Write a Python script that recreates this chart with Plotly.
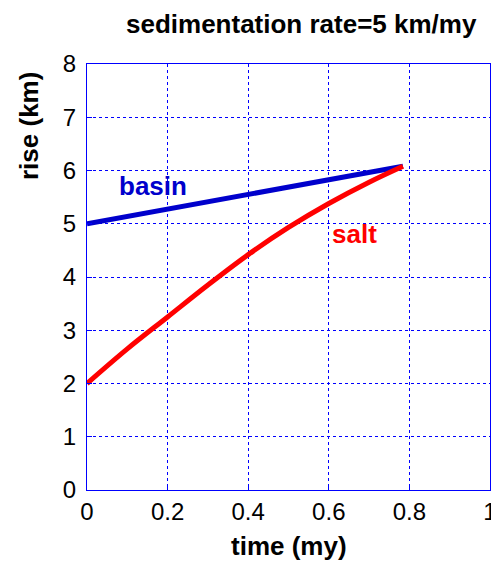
import plotly.graph_objects as go

time_basin = [0.0, 0.784]
rise_basin = [5.0, 6.08]

time_salt = [0.0, 0.1, 0.2, 0.3, 0.4, 0.5, 0.6, 0.7, 0.784]
rise_salt = [2.0, 2.65, 3.25, 3.85, 4.42, 4.93, 5.38, 5.78, 6.08]

x_ticks = [0, 0.2, 0.4, 0.6, 0.8, 1]
x_tick_text = ["0", "0.2", "0.4", "0.6", "0.8", "1"]
y_ticks = [0, 1, 2, 3, 4, 5, 6, 7, 8]

FONT = "Liberation Sans, Arial, Helvetica"

fig = go.Figure()
fig.add_trace(go.Scatter(x=time_basin, y=rise_basin, mode="lines",
                         line=dict(color="#0000cc", width=5), showlegend=False))
fig.add_trace(go.Scatter(x=time_salt, y=rise_salt, mode="lines", line_shape="spline",
                         line=dict(color="#ff0000", width=5), showlegend=False))

fig.add_annotation(x=0.164, y=5.71, text="<b>basin</b>", showarrow=False,
                   font=dict(family=FONT, size=26, color="#0000cc"))
fig.add_annotation(x=0.663, y=4.81, text="<b>salt</b>", showarrow=False,
                   font=dict(family=FONT, size=26, color="#ff0000"))

# title and axis titles
fig.add_annotation(xref="paper", yref="paper", x=0.532, y=1.0 + (64 - 24) / 426,
                   text="<b>sedimentation rate=5 km/my</b>", showarrow=False,
                   xanchor="center", yanchor="middle",
                   font=dict(family=FONT, size=26, color="black"))
fig.add_annotation(xref="paper", yref="paper", x=0.5, y=-(546 - 490) / 426,
                   text="<b>time (my)</b>", showarrow=False,
                   xanchor="center", yanchor="middle",
                   font=dict(family=FONT, size=26, color="black"))
fig.add_annotation(xref="paper", yref="paper", x=-(87 - 29) / 403, y=(490 - 126) / 426,
                   text="<b>rise (km)</b>", showarrow=False, textangle=-90,
                   xanchor="center", yanchor="middle",
                   font=dict(family=FONT, size=26, color="black"))

axis_common = dict(showline=True, linecolor="#0000ff", linewidth=1, mirror=True,
                   showgrid=True, gridcolor="#0000ff", gridwidth=1, griddash="dot",
                   zeroline=False, ticks="inside", ticklen=5, tickcolor="#0000ff",
                   automargin=False,
                   tickfont=dict(family=FONT, size=24, color="black"))

# the page body adds an 8px offset, so the figure is 8px smaller and margins shifted
fig.update_layout(
    width=491, height=557,
    margin=dict(l=79, r=9, t=56, b=75),
    paper_bgcolor="white", plot_bgcolor="white",
    xaxis=dict(range=[0, 1], tickvals=x_ticks, ticktext=x_tick_text,
               ticklabelstandoff=0, **axis_common),
    yaxis=dict(range=[0, 8], tickvals=y_ticks,
               ticklabelstandoff=5, **axis_common),
)

fig.write_html("out.html")
